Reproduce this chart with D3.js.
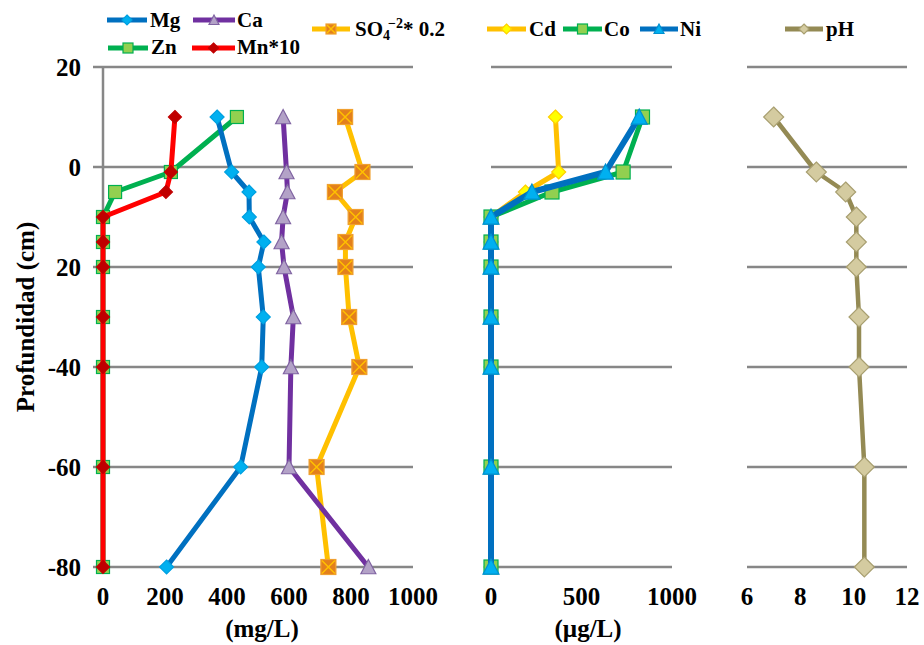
<!DOCTYPE html>
<html lang="en">
<head>
<meta charset="UTF-8">
<title>Profundidad</title>
<script src="https://d3js.org/d3.v7.min.js"></script>
<style>
    body { margin: 0; background: #fff; }
    svg { font-family: "Liberation Serif", "Times New Roman", serif; font-weight: bold; }
</style>
</head>
<body>
<svg id="chart" width="924" height="645"></svg>
<script>
// depth (cm) shared by every series
const depth = [10, -1, -5, -10, -15, -20, -30, -40, -60, -80];

// panel 1 (mg/L)
const mg   = [368, 415, 471, 472, 519, 501, 517, 512, 444, 205];
const ca   = [581, 592, 595, 581, 576, 584, 614, 606, 600, 856];
const zn   = [432, 219, 39, 0, 0, 0, 0, 0, 0, 0];
const mn10 = [232, 219, 203, 0, 0, 0, 0, 0, 0, 0];
const so4  = [781, 837, 748, 815, 782, 782, 794, 827, 689, 727];

// panel 2 (ug/L)
const cd = [356, 374, 190, 0, 0, 0, 0, 0, 0, 0];
const co = [837, 730, 337, 0, 0, 0, 0, 0, 0, 0];
const ni = [819, 633, 226, 0, 0, 0, 0, 0, 0, 0];

// panel 3
const ph = [7.0, 8.6, 9.7, 10.1, 10.1, 10.1, 10.2, 10.2, 10.4, 10.4];

// ticks
const yTicks = [20, 0, -20, -40, -60, -80];
const yTickLabels = ["20", "0", "20", "-40", "-60", "-80"];
const x1Ticks = [0, 200, 400, 600, 800, 1000];
const x2Ticks = [0, 500, 1000];
const x3Ticks = [6, 8, 10, 12];

const svg = d3.select("#chart");
const grid = "#878787";
const tickFont = "25px";
const legendFont = "21px";

const y = d3.scaleLinear().domain([-80, 20]).range([567, 67]);
const x1 = d3.scaleLinear().domain([0, 1000]).range([103, 413]);
const x2 = d3.scaleLinear().domain([0, 1000]).range([491, 672]);
const x3 = d3.scaleLinear().domain([6, 12]).range([747, 907]);

// gridlines
function gridlines(x0, x1end) {
    svg.append("g").selectAll("line")
        .data(yTicks)
        .join("line")
        .attr("x1", x0).attr("x2", x1end)
        .attr("y1", d => y(d)).attr("y2", d => y(d))
        .attr("stroke", grid).attr("stroke-width", 2.5);
}
gridlines(93, x1.range()[1]);
gridlines(x2.range()[0], x2.range()[1]);
gridlines(x3.range()[0], x3.range()[1]);

// vertical axis of panel 1
svg.append("line")
    .attr("x1", x1(0)).attr("x2", x1(0))
    .attr("y1", y(20)).attr("y2", y(-80))
    .attr("stroke", grid).attr("stroke-width", 2.5);

// y tick labels
svg.append("g").selectAll("text")
    .data(yTicks)
    .join("text")
    .attr("x", 81)
    .attr("y", d => y(d))
    .attr("dy", "0.35em")
    .attr("text-anchor", "end")
    .style("font-size", tickFont)
    .text((d, i) => yTickLabels[i]);

svg.append("text")
    .attr("transform", `translate(34,${y(-30)}) rotate(-90)`)
    .attr("text-anchor", "middle")
    .style("font-size", tickFont)
    .text("Profundidad (cm)");

// x tick labels
function xLabels(x, ticks) {
    svg.append("g").selectAll("text")
        .data(ticks)
        .join("text")
        .attr("x", d => x(d))
        .attr("y", 605)
        .attr("text-anchor", "middle")
        .style("font-size", tickFont)
        .text(d => d);
}
xLabels(x1, x1Ticks);
xLabels(x2, x2Ticks);
xLabels(x3, x3Ticks);

svg.append("text").attr("x", 262).attr("y", 637).attr("text-anchor", "middle")
    .style("font-size", tickFont).text("(mg/L)");
svg.append("text").attr("x", 588).attr("y", 637).attr("text-anchor", "middle")
    .style("font-size", tickFont).text("(\u00b5g/L)");

// markers
function marker(g, type, cx, cy, s, fill, stroke) {
    const h = s / 2;
    if (type === "diamond") {
        g.append("path")
            .attr("d", `M${cx},${cy - h}L${cx + h},${cy}L${cx},${cy + h}L${cx - h},${cy}Z`)
            .attr("fill", fill).attr("stroke", stroke).attr("stroke-width", 1.2);
    } else if (type === "triangle") {
        g.append("path")
            .attr("d", `M${cx},${cy - h}L${cx + h},${cy + h * 0.9}L${cx - h},${cy + h * 0.9}Z`)
            .attr("fill", fill).attr("stroke", stroke).attr("stroke-width", 1.2);
    } else if (type === "square") {
        g.append("rect")
            .attr("x", cx - h).attr("y", cy - h).attr("width", s).attr("height", s)
            .attr("fill", fill).attr("stroke", stroke).attr("stroke-width", 1.2);
    } else if (type === "xsquare") {
        g.append("rect")
            .attr("x", cx - h).attr("y", cy - h).attr("width", s).attr("height", s)
            .attr("fill", fill).attr("stroke", stroke).attr("stroke-width", 1.2);
        g.append("path")
            .attr("d", `M${cx - h + 1},${cy - h + 1}L${cx + h - 1},${cy + h - 1}M${cx + h - 1},${cy - h + 1}L${cx - h + 1},${cy + h - 1}`)
            .attr("stroke", "#FFC000").attr("stroke-width", 1.5);
    }
}

const series = [
    { name: "SO4", x: x1, values: so4, line: "#FFC000", type: "xsquare", fill: "#E3801C", stroke: "#F0A030", size: 15, width: 5 },
    { name: "Zn", x: x1, values: zn, line: "#00B050", type: "square", fill: "#92D050", stroke: "#00B050", size: 13, width: 5 },
    { name: "Mn*10", x: x1, values: mn10, line: "#FF0000", type: "diamond", fill: "#C00000", stroke: "#C00000", size: 13, width: 5 },
    { name: "Mg", x: x1, values: mg, line: "#0070C0", type: "diamond", fill: "#00B0F0", stroke: "#00A0E0", size: 14, width: 5 },
    { name: "Ca", x: x1, values: ca, line: "#7030A0", type: "triangle", fill: "#B3A2C7", stroke: "#8064A2", size: 15, width: 5 },
    { name: "Cd", x: x2, values: cd, line: "#FFC000", type: "diamond", fill: "#FFFF00", stroke: "#FFD000", size: 14, width: 5 },
    { name: "Co", x: x2, values: co, line: "#00B050", type: "square", fill: "#92D050", stroke: "#00B050", size: 14, width: 5 },
    { name: "Ni", x: x2, values: ni, line: "#0070C0", type: "triangle", fill: "#00B0F0", stroke: "#0090D0", size: 16, width: 6 },
    { name: "pH", x: x3, values: ph, line: "#948A54", type: "diamond", fill: "#D4CBA0", stroke: "#A89F70", size: 20, width: 4.5 }
];

series.forEach(s => {
    const g = svg.append("g");
    const line = d3.line().x(d => s.x(d[0])).y(d => y(d[1]));
    g.append("path")
        .datum(s.values.map((v, i) => [v, depth[i]]))
        .attr("d", line)
        .attr("fill", "none")
        .attr("stroke", s.line)
        .attr("stroke-width", s.width)
        .attr("stroke-linejoin", "round");
    s.values.forEach((v, i) => marker(g, s.type, s.x(v), y(depth[i]), s.size, s.fill, s.stroke));
});

// legend
const legendItems = [
    { s: "Mg", x0: 107, x1: 147, ly: 20, tx: 150, ty: 27 },
    { s: "Ca", x0: 193, x1: 235, ly: 20, tx: 237, ty: 27 },
    { s: "SO4", x0: 312, x1: 350, ly: 29, tx: 355, ty: 36 },
    { s: "Zn", x0: 108, x1: 148, ly: 48, tx: 151, ty: 54 },
    { s: "Mn*10", x0: 192, x1: 235, ly: 48, tx: 237, ty: 54 },
    { s: "Cd", x0: 487, x1: 526, ly: 29, tx: 529, ty: 36 },
    { s: "Co", x0: 563, x1: 602, ly: 29, tx: 604, ty: 36 },
    { s: "Ni", x0: 640, x1: 678, ly: 29, tx: 680, ty: 36 },
    { s: "pH", x0: 785, x1: 823, ly: 29, tx: 826, ty: 36 }
];

legendItems.forEach(it => {
    const s = series.find(d => d.name === it.s);
    const g = svg.append("g");
    g.append("line")
        .attr("x1", it.x0).attr("x2", it.x1)
        .attr("y1", it.ly).attr("y2", it.ly)
        .attr("stroke", s.line).attr("stroke-width", 5);
    marker(g, s.type, (it.x0 + it.x1) / 2, it.ly, 10, s.fill, s.stroke);
    const t = g.append("text").attr("x", it.tx).attr("y", it.ty).style("font-size", legendFont);
    if (it.s === "SO4") {
        t.append("tspan").text("SO");
        t.append("tspan").attr("dy", 4).style("font-size", "14px").text("4");
        t.append("tspan").attr("dy", -12).attr("dx", -2).style("font-size", "14px").text("\u22122");
        t.append("tspan").attr("dy", 8).text("* 0.2");
    } else {
        t.text(it.s);
    }
});
</script>
</body>
</html>
